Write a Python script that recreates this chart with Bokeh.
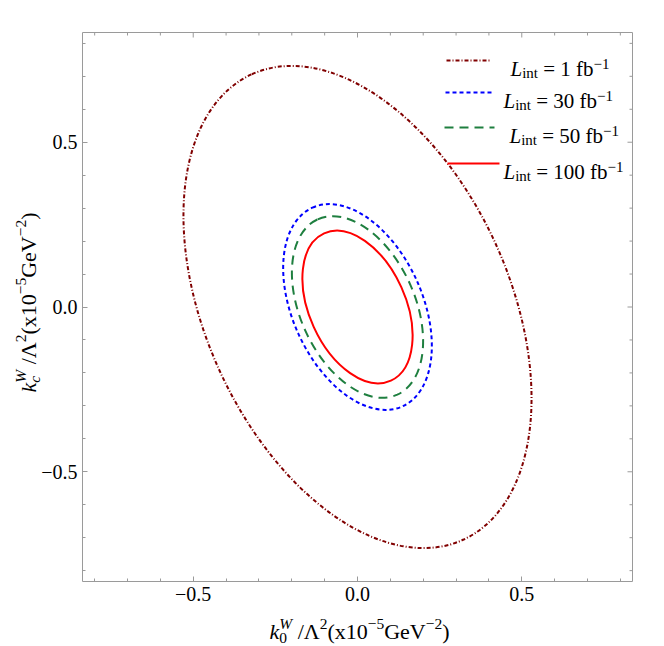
from bokeh.plotting import figure
from bokeh.models import Range1d, LinearAxis, FixedTicker, Label
from bokeh.embed import file_html
from bokeh.resources import INLINE

# ---------------- data ----------------
# confidence ellipses, all centred at the origin
lumi = [1, 30, 50, 100]                       # integrated luminosity, fb^-1
center_x = [0.0, 0.0, 0.0, 0.0]
center_y = [0.0, 0.0, 0.0, 0.0]
semi_major = [0.778, 0.332, 0.293, 0.246]
semi_minor = [0.461, 0.197, 0.174, 0.146]
tilt_deg = [114.4, 114.4, 114.4, 114.4]

major_ticks = [-0.5, 0.0, 0.5]
minor_ticks = [-0.8, -0.7, -0.6, -0.4, -0.3, -0.2, -0.1, 0.1, 0.2, 0.3, 0.4, 0.6, 0.7, 0.8]
tick_labels = {-0.5: "−0.5", 0: "0.0", 0.5: "0.5"}

# ---------------- styles / layout ----------------
colors = ["#800000", "#0000FF", "#1E7F3F", "#FF0000"]
dashes = ["4 2 1 2", "4 3", "9 6", "solid"]
widths = [2.0, 2.0, 2.0, 2.0]
FONT = "Liberation Serif"
GRAY = "#9a9a9a"

XMIN, XMAX = -0.837, 0.837          # visible plot box
YMIN, YMAX = -0.833, 0.833
FX0, FY0, FW, FH = 82, 32, 550, 549  # plot box placement on the canvas, px
CW, CH = 656, 644                    # canvas size, px
UX = (XMAX - XMIN) / FW              # data units per pixel
UY = (YMAX - YMIN) / FH


def dx(px):
    return XMIN + (px - FX0) * UX


def dy(py):
    return YMAX - (py - FY0) * UY


p = figure(width=CW, height=CH, output_backend="svg", toolbar_location=None,
           x_range=Range1d(dx(0), dx(CW)), y_range=Range1d(dy(CH), dy(0)),
           x_axis_type=None, y_axis_type=None, min_border=0)
p.grid.visible = False
p.outline_line_color = None
p.background_fill_color = "white"
p.border_fill_color = "white"


def make_axis(loc, bounds):
    ax = LinearAxis(ticker=FixedTicker(ticks=major_ticks, minor_ticks=minor_ticks),
                    fixed_location=loc, bounds=bounds)
    ax.axis_line_color = None
    ax.major_tick_line_color = GRAY
    ax.minor_tick_line_color = GRAY
    ax.major_tick_in = 5
    ax.major_tick_out = 0
    ax.minor_tick_in = 3
    ax.minor_tick_out = 0
    ax.major_label_overrides = tick_labels
    ax.major_label_text_font = FONT
    ax.major_label_text_font_size = "20px"
    ax.major_label_text_color = "black"
    ax.major_label_standoff = 5
    return ax


p.add_layout(make_axis(YMIN, (XMIN, XMAX)), "below")
p.add_layout(make_axis(XMIN, (YMIN, YMAX)), "left")

# plot box
p.quad(left=[XMIN], right=[XMAX], bottom=[YMIN], top=[YMAX],
       fill_color=None, line_color=GRAY, line_width=1)

# inward ticks on the top and right edges
nM, nm = len(major_ticks), len(minor_ticks)
p.segment(x0=major_ticks, y0=[YMAX] * nM, x1=major_ticks, y1=[YMAX - 5 * UY] * nM,
          line_color=GRAY, line_width=1)
p.segment(x0=minor_ticks, y0=[YMAX] * nm, x1=minor_ticks, y1=[YMAX - 3 * UY] * nm,
          line_color=GRAY, line_width=1)
p.segment(x0=[XMAX] * nM, y0=major_ticks, x1=[XMAX - 5 * UX] * nM, y1=major_ticks,
          line_color=GRAY, line_width=1)
p.segment(x0=[XMAX] * nm, y0=minor_ticks, x1=[XMAX - 3 * UX] * nm, y1=minor_ticks,
          line_color=GRAY, line_width=1)

# ---------------- contours ----------------
for i in range(len(lumi)):
    p.ellipse(x=[center_x[i]], y=[center_y[i]],
              width=[2 * semi_major[i]], height=[2 * semi_minor[i]],
              angle=[tilt_deg[i]], angle_units="deg",
              fill_color=None, line_color=colors[i],
              line_dash=dashes[i], line_width=widths[i])

# ---------------- rich text built from pieces ----------------
W_REG = {"=": 0.564, "f": 0.333, "b": 0.5, "i": 0.278, "n": 0.5, "t": 0.278,
         "−": 0.564, "/": 0.278, "Λ": 0.722, "(": 0.333, ")": 0.333, "x": 0.5,
         "G": 0.722, "e": 0.444, "V": 0.722}
W_IT = {"L": 0.556, "k": 0.444, "W": 0.833, "c": 0.444}
SPACE = 0.25


def char_w(ch, italic):
    if ch.isdigit():
        return 0.5
    return (W_IT if italic else W_REG).get(ch, 0.5)


def layout_pieces(pieces, F, s):
    runs, cur = [], 0.0
    for text, script, italic, shift, adv in pieces:
        size = s if script else F
        pos, run, run_start = cur, "", cur
        for ch in text + "\n":
            if ch in (" ", "\n"):
                if run:
                    runs.append((run, size, italic, shift, run_start))
                    run = ""
                if ch == " ":
                    pos += SPACE * size
            else:
                if not run:
                    run_start = pos
                run += ch
                pos += char_w(ch, italic) * size
        if adv:
            cur = pos
    return runs, cur


def place(pieces, F, s, px, py, vertical=False, center=True):
    runs, total = layout_pieces(pieces, F, s)
    for text, size, italic, shift, cur in runs:
        if vertical:
            start = py + total / 2 if center else py
            lab = Label(x=dx(px), y=dy(start), x_offset=-shift, y_offset=cur,
                        angle=90, angle_units="deg")
        else:
            start = px - total / 2 if center else px
            lab = Label(x=dx(start), y=dy(py), x_offset=cur, y_offset=shift)
        lab.text = text
        lab.text_font = FONT
        lab.text_font_size = f"{size}px"
        lab.text_font_style = "italic" if italic else "normal"
        lab.text_color = "black"
        lab.text_align = "left"
        lab.text_baseline = "alphabetic"
        p.add_layout(lab)


def axis_title(sub):
    return [("k", False, True, 0, True),
            (sub, True, sub == "c", -6, False),
            ("W", True, True, 8, True),
            (" /Λ", False, False, 0, True),
            ("2", True, False, 8, True),
            ("(x10", False, False, 0, True),
            ("−5", True, False, 8, True),
            ("GeV", False, False, 0, True),
            ("−2", True, False, 8, True),
            (")", False, False, 0, True)]


place(axis_title("0"), 22, 15.5, 359, 631)
place(axis_title("c"), 22, 15.5, 28, 302, vertical=True)

# ---------------- legend ----------------
leg_line_y = [60, 92, 127, 163]
leg_line_x0 = [446, 445, 444, 447]
leg_line_x1 = [490, 492, 494, 499]
leg_text_x = [510, 503, 509, 503]
for i in range(len(lumi)):
    ly = dy(leg_line_y[i])
    p.line(x=[dx(leg_line_x0[i]), dx(leg_line_x1[i])], y=[ly, ly],
           line_color=colors[i], line_dash=dashes[i], line_width=widths[i])
    pieces = [("L", False, True, 0, True),
              ("int", True, False, -4, True),
              (f" = {lumi[i]} fb", False, False, 0, True),
              ("−1", True, False, 5, True)]
    place(pieces, 21, 15, leg_text_x[i], leg_line_y[i] + 8, center=False)

open("out.html", "w").write(file_html(p, INLINE))
